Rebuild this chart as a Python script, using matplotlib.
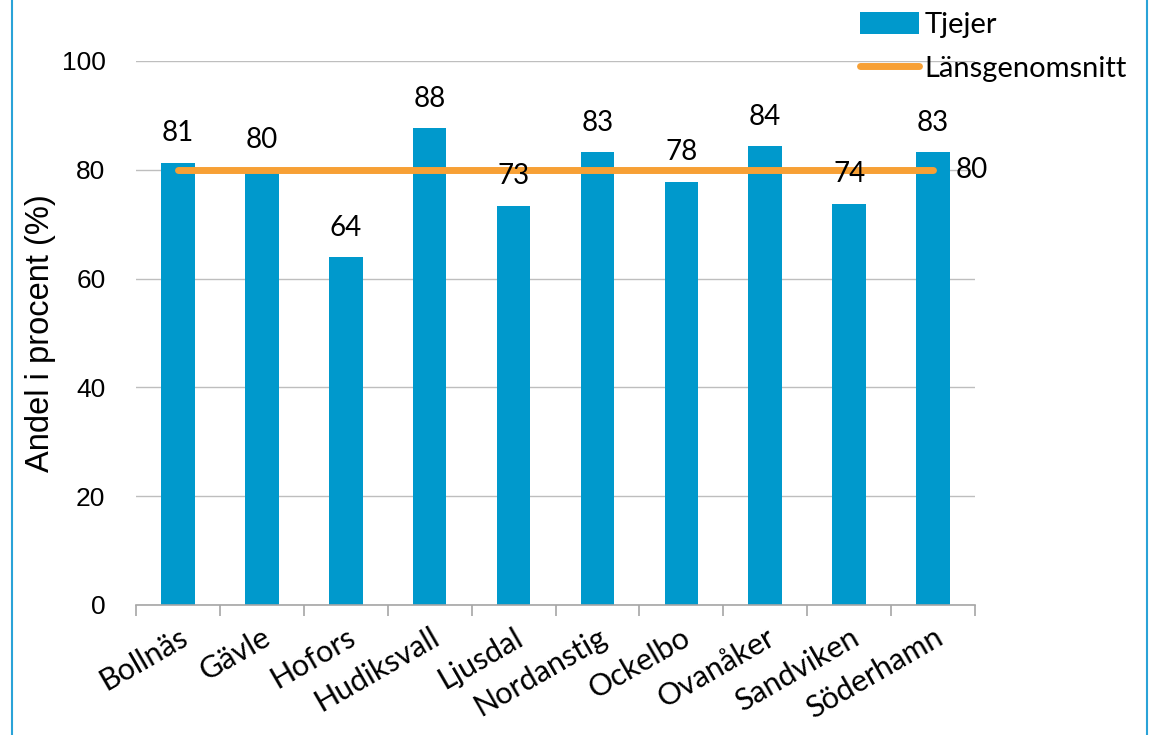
import numpy as np
import matplotlib.pyplot as plt
from matplotlib.patches import Rectangle

# data
kommuner = ['Bollnäs', 'Gävle', 'Hofors', 'Hudiksvall', 'Ljusdal', 'Nordanstig',
            'Ockelbo', 'Ovanåker', 'Sandviken', 'Söderhamn']
tjejer = [81.3, 80.0, 64.0, 87.6, 73.4, 83.3, 77.8, 84.4, 73.8, 83.3]
lansgenomsnitt = [80] * len(kommuner)

bar_color = '#0099CC'
line_color = '#F7A035'
txt_font = ['Lato', 'DejaVu Sans']
num_font = ['Liberation Sans', 'DejaVu Sans']

fig = plt.figure(figsize=(11.63, 7.35), dpi=100)
ax = fig.add_axes([136 / 1163, 1 - 605 / 735, (975 - 136) / 1163, (605 - 61) / 735])

x = np.arange(len(kommuner))
bars = ax.bar(x, tjejer, width=0.4, color=bar_color, label='Tjejer', zorder=2)
line, = ax.plot(x, lansgenomsnitt, color=line_color, lw=5, solid_capstyle='round',
                label='Länsgenomsnitt', zorder=3)

# value labels
for xi, v in zip(x, tjejer):
    ax.text(xi, v + 3, f'{v:.0f}', ha='center', va='bottom', fontsize=20,
            family=txt_font)
ax.text(x[-1] + 0.27, lansgenomsnitt[-1], f'{lansgenomsnitt[-1]:.0f}', ha='left',
        va='center', fontsize=20, family=txt_font)

ax.set_xlim(-0.5, len(kommuner) - 0.5)
ax.set_ylim(0, 100)
ax.set_yticks(range(0, 101, 20))
ax.yaxis.grid(True, color='#BEBEBE', lw=1, zorder=0)
ax.set_axisbelow(True)
for s in ['top', 'right', 'left']:
    ax.spines[s].set_visible(False)
ax.spines['bottom'].set_color('#A6A6A6')
ax.spines['bottom'].set_linewidth(1.2)
ax.tick_params(axis='y', length=0, pad=22, labelsize=19)
for lab in ax.get_yticklabels():
    lab.set_family(num_font)

# ticks at category boundaries, labels at centers
ax.set_xticks(np.arange(-0.5, len(kommuner), 1))
ax.set_xticklabels([])
ax.tick_params(axis='x', which='major', direction='out', length=8,
               color='#A6A6A6', width=1.2)
ax.set_xticks(x, minor=True)
ax.set_xticklabels(kommuner, minor=True, rotation=30, ha='right',
                   rotation_mode='anchor', fontsize=22, family=txt_font)
ax.tick_params(axis='x', which='minor', length=0, pad=13)

ax.set_ylabel('Andel i procent (%)', fontsize=23.5, family=num_font, labelpad=4)

leg = fig.legend([bars, line], ['Tjejer', 'Länsgenomsnitt'], loc='upper left',
                 bbox_to_anchor=(834 / 1163, 1.02), frameon=False,
                 prop={'family': txt_font, 'size': 21},
                 handlelength=2.0, handleheight=0.8, handletextpad=0.2,
                 labelspacing=0.6)

# outer border
fig.add_artist(Rectangle((12 / 1163, -0.01), 1135 / 1163, 1.02,
                         transform=fig.transFigure, fill=False,
                         edgecolor='#2AA3D8', lw=1.5))

plt.savefig('out.png', dpi=100)
